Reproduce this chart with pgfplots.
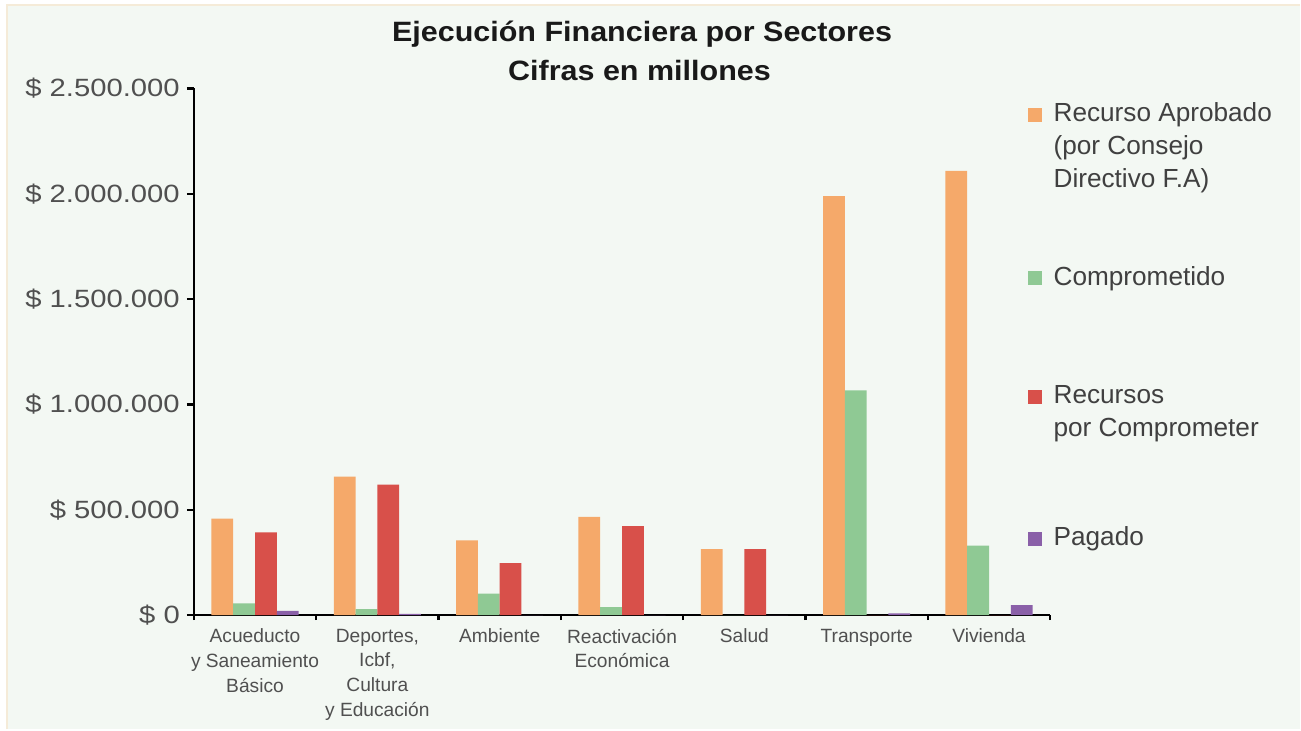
\documentclass[border=0pt]{standalone}
\usepackage{fontspec}
\setmainfont{Liberation Sans}
\newfontfamily\titlefont[FakeStretch=1.09]{Liberation Sans}
\newfontfamily\tickfont[FakeStretch=1.17]{Liberation Sans}
\usepackage{pgfplots}
\pgfplotsset{compat=1.18}
\definecolor{bgc}{HTML}{F3F8F3}
\definecolor{cream}{HTML}{F5EBD8}
\definecolor{corange}{HTML}{F5A96A}
\definecolor{cgreen}{HTML}{8FC994}
\definecolor{cred}{HTML}{D8504A}
\definecolor{cpurple}{HTML}{8A60A8}
\definecolor{txtgray}{HTML}{505050}
\pgfplotsset{
  sq legend/.style={legend image code/.code={\fill[##1,draw=none] (0pt,0pt) rectangle (7pt,7pt);}}
}
\begin{document}
\begin{tikzpicture}
\fill[white] (0pt,0pt) rectangle (650.5pt,365pt);
\fill[bgc] (3.5pt,0pt) rectangle (650.5pt,362.5pt);
\draw[cream, line width=1pt] (3.5pt,0pt) -- (3.5pt,362.5pt) -- (650.5pt,362.5pt);
\node[anchor=base, inner sep=0pt, font={\titlefont\bfseries\fontsize{14}{17}\selectfont}, text=black!90] at (321.25pt,344pt) {Ejecución Financiera por Sectores};
\node[anchor=base, inner sep=0pt, font={\titlefont\bfseries\fontsize{14}{17}\selectfont}, text=black!90] at (320pt,324.5pt) {Cifras en millones};
\begin{axis}[
  at={(97pt,57.25pt)}, anchor=south west,
  scale only axis, width=428.5pt, height=263.5pt,
  xmin=-0.5, xmax=6.5, ymin=0, ymax=2500000,
  enlargelimits=false, clip=false,
  axis x line=bottom, axis y line=left,
  axis line style={-, black, line width=1.3pt},
  ybar=0pt, bar width=0.178,
  xtick={0,1,2,3,4,5,6},
  xticklabels={{Acueducto\\y Saneamiento\\Básico}, {Deportes,\\Icbf,\\Cultura\\y Educación}, {Ambiente}, {Reactivación\\Económica}, {Salud}, {Transporte}, {Vivienda}},
  xticklabel style={align=center, font={\fontsize{9.6}{12.3}\selectfont}, text=txtgray},
  minor xtick={-0.5,0.5,...,6.5},
  major x tick style={draw=none},
  minor x tick style={black, line width=1.2pt},
  minor tick length=2.5pt,
  ytick={0,500000,1000000,1500000,2000000,2500000},
  yticklabels={\$ 0, \$ 500.000, \$ 1.000.000, \$ 1.500.000, \$ 2.000.000, \$ 2.500.000},
  yticklabel style={font={\tickfont\fontsize{12.5}{15}\selectfont}, text=txtgray},
  major y tick style={black, line width=1.2pt},
  major tick length=3.5pt,
  tick align=outside,
  scaled y ticks=false,
  legend style={at={(0.9732,0.9812)}, anchor=north west, draw=none, fill=none, inner sep=0pt,
    font={\fontsize{13.1}{16.5}\selectfont}, text=black!75,
    cells={anchor=base west, inner sep=1pt},
    row sep=34.75pt,
    /tikz/every odd column/.style={column sep=4pt}},
]
\addplot[fill=corange, draw=none, sq legend] coordinates {(0,458000) (1,657000) (2,354000) (3,466000) (4,313000) (5,1989000) (6,2108000)};
\addlegendentry{\vtop{\hbox{Recurso Aprobado}\hbox{(por Consejo}\hbox{Directivo F.A)}}}
\addplot[fill=cgreen, draw=none, sq legend] coordinates {(0,55000) (1,28000) (2,101000) (3,37000) (4,0) (5,1067000) (6,329000)};
\addlegendentry{\vtop{\hbox{\rule{0pt}{41.65pt}Comprometido}}}
\addplot[fill=cred, draw=none, sq legend] coordinates {(0,392000) (1,619000) (2,246000) (3,422000) (4,313000) (5,0) (6,0)};
\addlegendentry{\vtop{\hbox{\rule{0pt}{18.9pt}Recursos}\hbox{por Comprometer}}}
\addplot[fill=cpurple, draw=none, sq legend] coordinates {(0,20000) (1,6000) (2,0) (3,0) (4,0) (5,8000) (6,47000)};
\addlegendentry{\vtop{\hbox{\rule{0pt}{31pt}Pagado}}}
\end{axis}
\end{tikzpicture}
\end{document}
